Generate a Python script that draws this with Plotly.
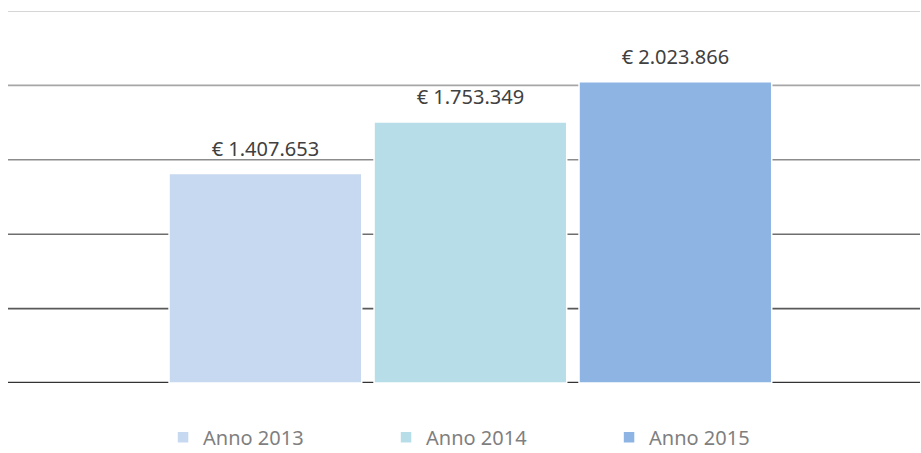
import plotly.graph_objects as go

category = ["Totale"]
series_names = ["Anno 2013", "Anno 2014", "Anno 2015"]
series_values = [1407653, 1753349, 2023866]
series_labels = ["€ 1.407.653", "€ 1.753.349", "€ 2.023.866"]
series_colors = ["#C6D9F1", "#B7DEE8", "#8DB4E3"]

grid_values = [0, 500000, 1000000, 1500000, 2000000, 2500000]
grid_colors = ["#333333", "#595959", "#6e6e6e", "#8c8c8c", "#a6a6a6", "#c8c8c8"]
grid_widths = [2.5, 1.6, 1.6, 1.6, 1.6, 1.6]

fig = go.Figure()
for name, val, col in zip(series_names, series_values, series_colors):
    fig.add_trace(go.Bar(
        x=category, y=[val], name=name, offsetgroup=name,
        marker=dict(color=col, line=dict(color="white", width=1.5)),
        hoverinfo="skip",
    ))
for name, val, lab in zip(series_names, series_values, series_labels):
    fig.add_trace(go.Scatter(
        x=category, y=[val], mode="markers+text", text=[lab], offsetgroup=name,
        textposition="top center", showlegend=False, hoverinfo="skip",
        marker=dict(size=19, color="rgba(0,0,0,0)"),
        textfont=dict(family="Noto Sans", size=20, color="#404040"),
        cliponaxis=False,
    ))

shapes = []
for gv, gc, gw in zip(grid_values, grid_colors, grid_widths):
    shapes.append(dict(type="line", xref="paper", yref="y", x0=0, x1=1, y0=gv, y1=gv,
                       line=dict(color=gc, width=gw), layer="below"))

fig.update_layout(
    width=921, height=453,
    margin=dict(l=8, r=1, t=11, b=70, autoexpand=False),
    paper_bgcolor="white", plot_bgcolor="white",
    barmode="group", bargap=0.3257, bargroupgap=0.06,
    scattermode="group", scattergap=0.3257,
    xaxis=dict(visible=False, range=[-0.507, 0.493]),
    yaxis=dict(visible=False, range=[0, 2500000], showgrid=False, zeroline=False),
    shapes=shapes,
    showlegend=True,
    legend=dict(orientation="h", x=0.170, xanchor="left", y=-0.146, yanchor="middle",
                font=dict(family="Noto Sans", size=20, color="#7f7f7f"),
                entrywidth=178, entrywidthmode="pixels", itemclick=False),
    font=dict(family="Noto Sans"),
)

fig.write_html(
    "out.html",
    config={"displayModeBar": False},
    post_script="document.body.style.margin='0';document.body.style.overflow='hidden';",
)
